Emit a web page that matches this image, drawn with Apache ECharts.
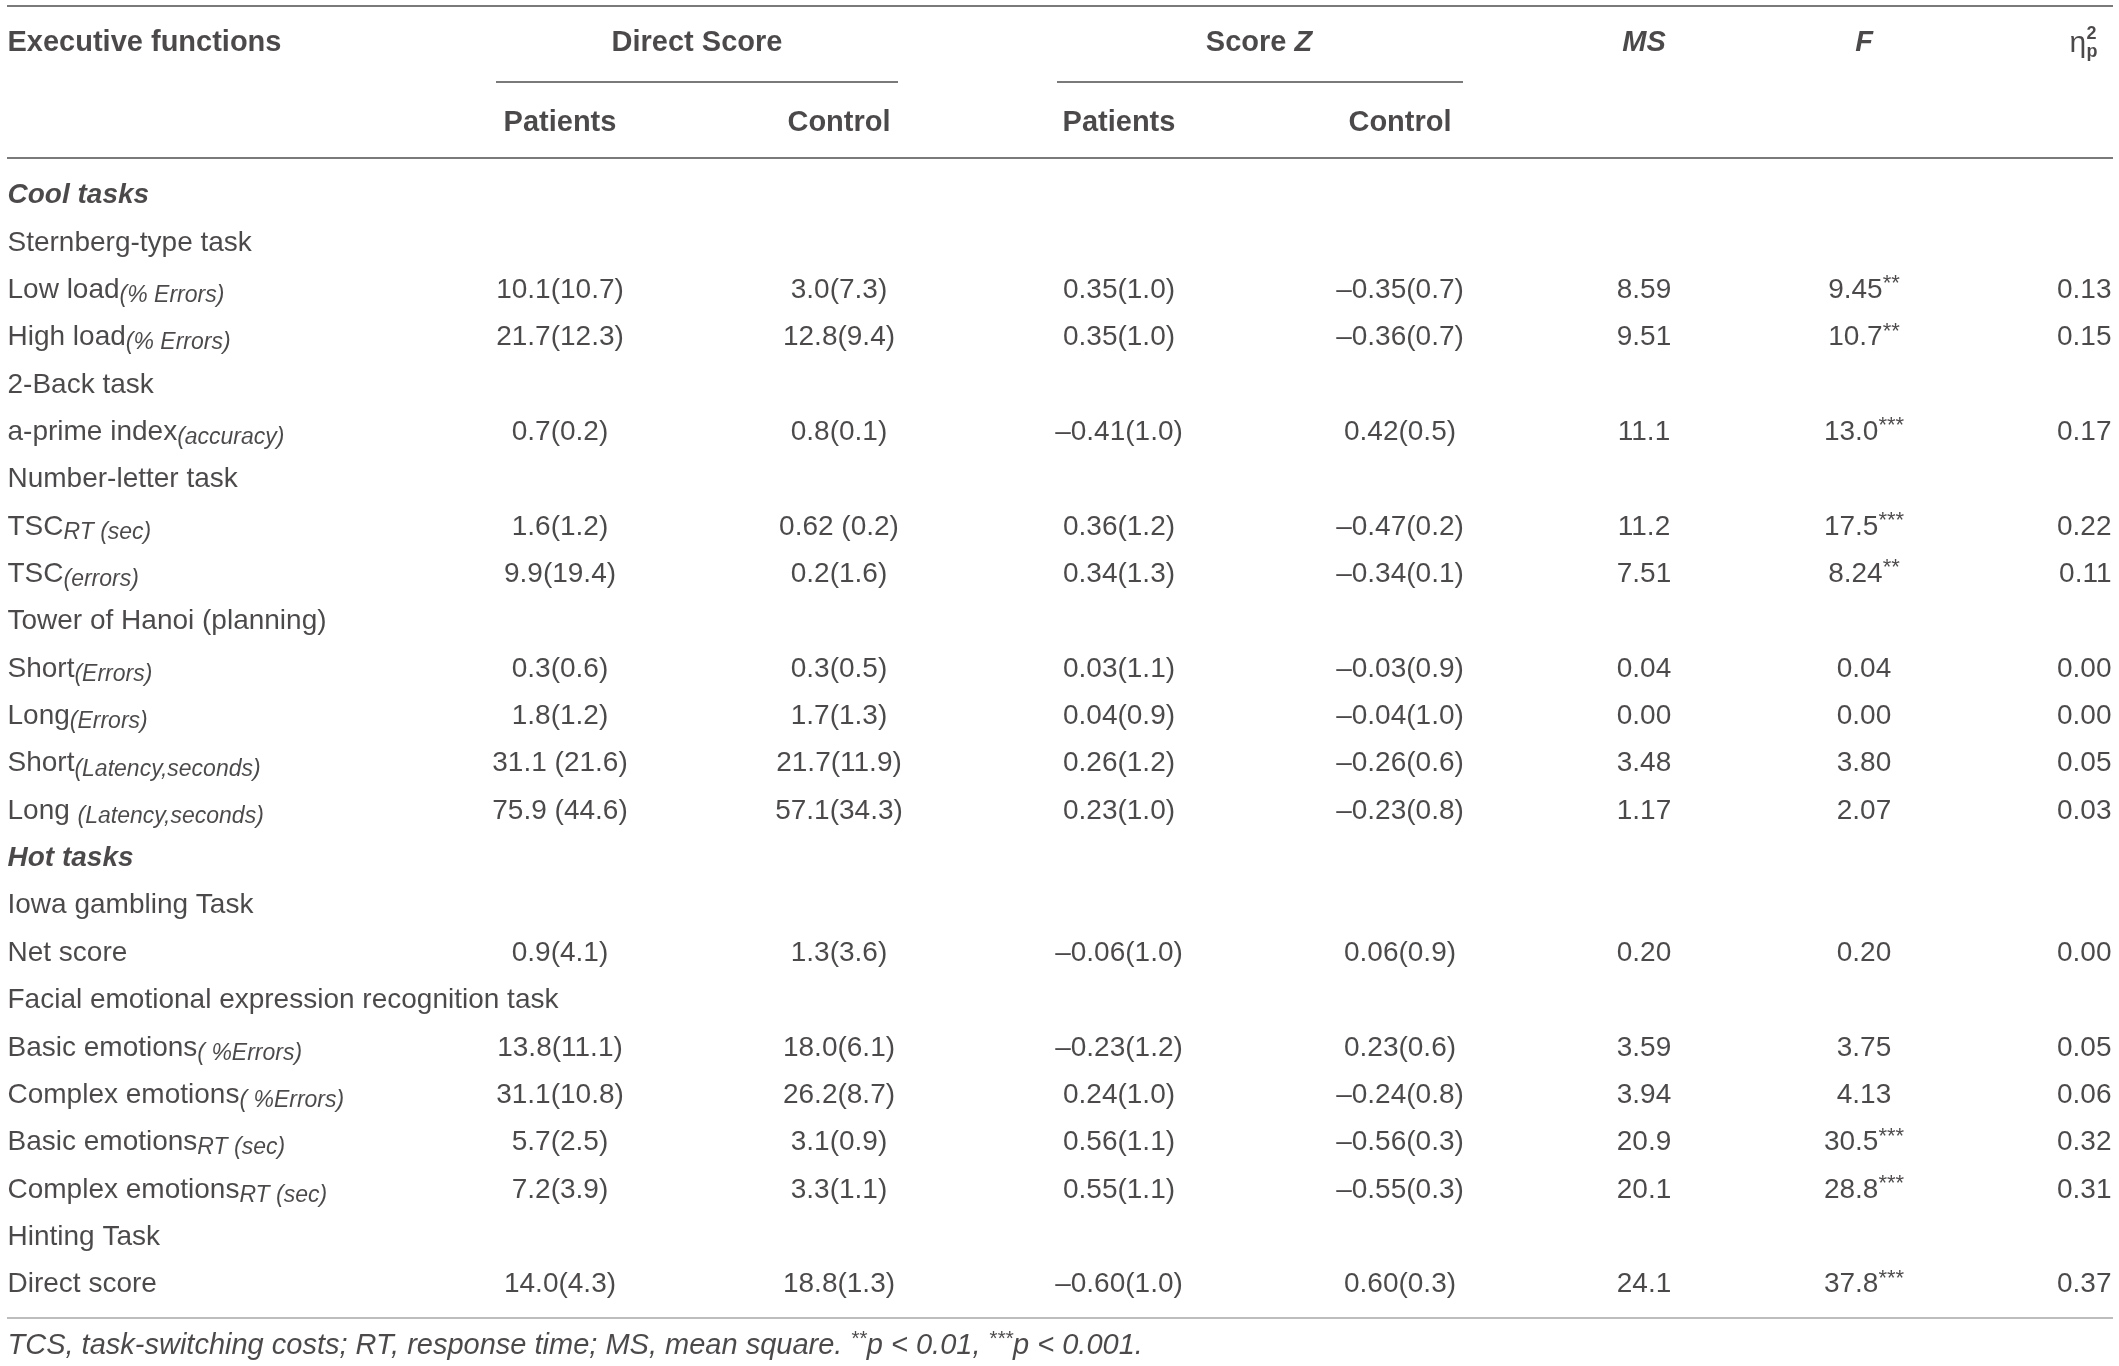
<!DOCTYPE html>
<html>
<head>
<meta charset="utf-8">
<title>Executive functions</title>
<script src="https://cdn.jsdelivr.net/npm/echarts@6/dist/echarts.min.js"></script>
<style>
  html, body { margin: 0; padding: 0; background: #fff; }
  #main { width: 2119px; height: 1366px; }
</style>
</head>
<body>
<div id="main"></div>
<script>
// table rows: main label + italic subscript
var rowNames = ['Cool tasks', 'Sternberg-type task', 'Low load', 'High load', '2-Back task', 'a-prime index',
  'Number-letter task', 'TSC', 'TSC', 'Tower of Hanoi (planning)', 'Short', 'Long', 'Short', 'Long ',
  'Hot tasks', 'Iowa gambling Task', 'Net score', 'Facial emotional expression recognition task',
  'Basic emotions', 'Complex emotions', 'Basic emotions', 'Complex emotions', 'Hinting Task', 'Direct score'];
var rowSubs = ['', '', '(% Errors)', '(% Errors)', '', '(accuracy)', '', 'RT (sec)', '(errors)', '',
  '(Errors)', '(Errors)', '(Latency,seconds)', '(Latency,seconds)', '', '', '', '',
  '( %Errors)', '( %Errors)', 'RT (sec)', 'RT (sec)', '', ''];
var groupRows = [0, 14];

var directPatients = ['', '', '10.1(10.7)', '21.7(12.3)', '', '0.7(0.2)', '', '1.6(1.2)', '9.9(19.4)', '',
  '0.3(0.6)', '1.8(1.2)', '31.1 (21.6)', '75.9 (44.6)', '', '', '0.9(4.1)', '', '13.8(11.1)', '31.1(10.8)',
  '5.7(2.5)', '7.2(3.9)', '', '14.0(4.3)'];
var directControl = ['', '', '3.0(7.3)', '12.8(9.4)', '', '0.8(0.1)', '', '0.62 (0.2)', '0.2(1.6)', '',
  '0.3(0.5)', '1.7(1.3)', '21.7(11.9)', '57.1(34.3)', '', '', '1.3(3.6)', '', '18.0(6.1)', '26.2(8.7)',
  '3.1(0.9)', '3.3(1.1)', '', '18.8(1.3)'];
var zPatients = ['', '', '0.35(1.0)', '0.35(1.0)', '', '–0.41(1.0)', '', '0.36(1.2)', '0.34(1.3)', '',
  '0.03(1.1)', '0.04(0.9)', '0.26(1.2)', '0.23(1.0)', '', '', '–0.06(1.0)', '', '–0.23(1.2)', '0.24(1.0)',
  '0.56(1.1)', '0.55(1.1)', '', '–0.60(1.0)'];
var zControl = ['', '', '–0.35(0.7)', '–0.36(0.7)', '', '0.42(0.5)', '', '–0.47(0.2)', '–0.34(0.1)', '',
  '–0.03(0.9)', '–0.04(1.0)', '–0.26(0.6)', '–0.23(0.8)', '', '', '0.06(0.9)', '', '0.23(0.6)', '–0.24(0.8)',
  '–0.56(0.3)', '–0.55(0.3)', '', '0.60(0.3)'];
var msValues = ['', '', '8.59', '9.51', '', '11.1', '', '11.2', '7.51', '', '0.04', '0.00', '3.48', '1.17',
  '', '', '0.20', '', '3.59', '3.94', '20.9', '20.1', '', '24.1'];
var fValues = ['', '', '9.45', '10.7', '', '13.0', '', '17.5', '8.24', '', '0.04', '0.00', '3.80', '2.07',
  '', '', '0.20', '', '3.75', '4.13', '30.5', '28.8', '', '37.8'];
var fStars = ['', '', '**', '**', '', '***', '', '***', '**', '', '', '', '', '', '', '', '', '', '', '',
  '***', '***', '', '***'];
var etaValues = ['', '', '0.13', '0.15', '', '0.17', '', '0.22', '0.11', '', '0.00', '0.00', '0.05', '0.03',
  '', '', '0.00', '', '0.05', '0.06', '0.32', '0.31', '', '0.37'];

var footNote = 'TCS, task-switching costs; RT, response time; MS, mean square. ';

// layout (px)
var W = 2119, H = 1366;
var row0 = 195.5, rowStep = 47.35;
var colX = { label: 7, dp: 560, dc: 839, zp: 1119, zc: 1400, ms: 1644, f: 1864, eta: 2112 };
var rowOf = function (px) { return (px - row0) / rowStep; };

var FONT = 'Liberation Sans';
var INK = '#1f1c1d';
var rich = {
  sub: { fontFamily: FONT, fontSize: 23, fontStyle: 'italic', color: INK, lineHeight: 20, verticalAlign: 'bottom' },
  grp: { fontFamily: FONT, fontSize: 28, fontStyle: 'italic', fontWeight: 'bold', color: INK },
  sup: { fontFamily: FONT, fontSize: 22, color: INK, lineHeight: 18, verticalAlign: 'top' },
  bi: { fontFamily: FONT, fontSize: 29, fontStyle: 'italic', fontWeight: 'bold', color: INK },
  isup: { fontFamily: FONT, fontSize: 21, fontStyle: 'italic', color: INK, lineHeight: 18, verticalAlign: 'top' }
};

var baseLabel = function (pos, extra) {
  var l = {
    show: true, position: pos, distance: 0, color: INK, fontFamily: FONT, fontSize: 28,
    lineHeight: 34, rich: rich
  };
  for (var k in extra) l[k] = extra[k];
  return l;
};

var textSeries = function (x, values, fmt, pos, extra) {
  var data = [];
  values.forEach(function (v, i) {
    if (v === '') return;
    data.push({ value: [x, i], label: baseLabel(pos, Object.assign({ formatter: fmt(v, i) }, extra || {})) });
  });
  return {
    type: 'scatter', symbol: 'circle', symbolSize: 1, itemStyle: { color: 'rgba(0,0,0,0)' },
    silent: true, animation: false, emphasis: { disabled: true }, data: data
  };
};

var plain = function (v) { return v; };

var series = [];
// first column
series.push(textSeries(colX.label, rowNames, function (v, i) {
  if (groupRows.indexOf(i) >= 0) return '{grp|' + v + '}';
  return v + (rowSubs[i] ? '{sub|' + rowSubs[i] + '}' : '');
}, 'right'));
series.push(textSeries(colX.dp, directPatients, plain, 'inside'));
series.push(textSeries(colX.dc, directControl, plain, 'inside'));
series.push(textSeries(colX.zp, zPatients, plain, 'inside'));
series.push(textSeries(colX.zc, zControl, plain, 'inside'));
series.push(textSeries(colX.ms, msValues, plain, 'inside'));
series.push(textSeries(colX.f, fValues, function (v, i) {
  return v + (fStars[i] ? '{sup|' + fStars[i] + '}' : '');
}, 'inside'));
series.push(textSeries(colX.eta, etaValues, plain, 'left'));

// header
var headTop = rowOf(42.5), headSub = rowOf(123);
var header = [
  [colX.label, headTop, 'Executive functions', 'right'],
  [697, headTop, 'Direct Score', 'inside'],
  [1259, headTop, 'Score {bi|Z}', 'inside'],
  [colX.ms, headTop, '{bi|MS}', 'inside'],
  [colX.f, headTop, '{bi|F}', 'inside'],
  [colX.dp, headSub, 'Patients', 'inside'],
  [colX.dc, headSub, 'Control', 'inside'],
  [colX.zp, headSub, 'Patients', 'inside'],
  [colX.zc, headSub, 'Control', 'inside']
];
var headData = header.map(function (h) {
  return { value: [h[0], h[1]], label: baseLabel(h[3], { formatter: h[2], fontWeight: 'bold', fontSize: 29 }) };
});
// eta with stacked sub/superscript
headData.push({ value: [2069, headTop], label: baseLabel('right', { formatter: 'η', fontSize: 30, offset: [0, 1] }) });
headData.push({ value: [2086, headTop], label: baseLabel('right', { formatter: '2', fontSize: 18, fontWeight: 'bold', offset: [0, -8] }) });
headData.push({ value: [2086, headTop], label: baseLabel('right', { formatter: 'p', fontSize: 18, fontWeight: 'bold', offset: [0, 10] }) });
// footnote
headData.push({
  value: [colX.label, rowOf(1346)],
  label: baseLabel('right', {
    formatter: footNote + '{isup|**}p < 0.01, {isup|***}p < 0.001.',
    fontStyle: 'italic', fontSize: 29
  })
});

series.push({
  type: 'scatter', symbol: 'circle', symbolSize: 1, itemStyle: { color: 'rgba(0,0,0,0)' },
  silent: true, animation: false, emphasis: { disabled: true }, data: headData,
  markLine: {
    silent: true, symbol: ['none', 'none'], animation: false, label: { show: false },
    lineStyle: { color: '#7a7a7a', width: 2, type: 'solid' },
    data: [
      [{ coord: [7, rowOf(5.7)] }, { coord: [2113, rowOf(5.7)] }],
      [{ coord: [496, rowOf(82)] }, { coord: [898, rowOf(82)] }],
      [{ coord: [1057, rowOf(82)] }, { coord: [1463, rowOf(82)] }],
      [{ coord: [7, rowOf(158)] }, { coord: [2113, rowOf(158)] }],
      [{ coord: [7, rowOf(1318)] }, { coord: [2113, rowOf(1318)], lineStyle: { color: '#bdbdbd', width: 2 } }]
    ]
  }
});

var myChart = echarts.init(document.getElementById('main'));
myChart.setOption({
  animation: false,
  backgroundColor: '#fff',
  grid: { left: 0, right: 0, top: 0, bottom: 0 },
  xAxis: { type: 'value', min: 0, max: W, show: false },
  yAxis: { type: 'value', inverse: true, min: rowOf(0), max: rowOf(H), show: false },
  series: series
});
</script>
</body>
</html>
